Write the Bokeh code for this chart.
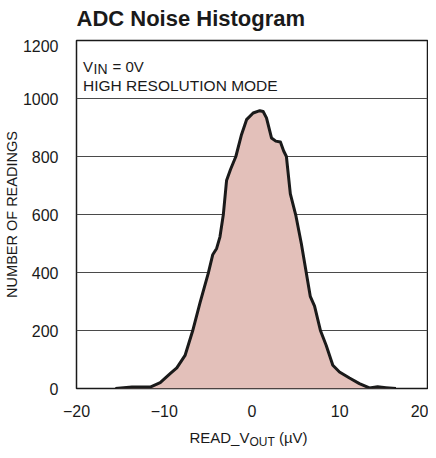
from bokeh.plotting import figure
from bokeh.models import Range1d, FixedTicker, Label, Div
from bokeh.layouts import column
from bokeh.embed import file_html
from bokeh.resources import INLINE

# ---- data ----
read_uv = [-15.57, -13.68, -11.6, -10.46, -9.33, -8.57, -7.63, -6.76, -5.92, -4.98,
           -4.48, -4.03, -3.65, -3.27, -2.9, -2.44, -1.84, -1.19, -0.62, 0.13,
           0.89, 1.27, 1.65, 2.22, 2.71, 3.24, 3.61, 3.92, 4.37, 4.98,
           5.62, 6.19, 6.64, 7.13, 7.81, 8.46, 9.21, 9.97, 11.11, 12.24,
           13.38, 14.32, 15.27, 16.4]
readings = [0, 5, 5, 20, 51, 71, 114, 199, 296, 398,
            461, 483, 523, 599, 717, 756, 800, 876, 927, 950,
            958, 955, 933, 864, 853, 850, 819, 800, 671, 599,
            500, 398, 318, 284, 199, 148, 80, 57, 36, 17,
            2, 6, 3, 0]
x_ticks = [-20, -10, 0, 10, 20]
x_tick_labels = {"-20": "\u221220", "-10": "\u221210", "0": "0", "10": "10", "20": "20"}
y_ticks = [0, 200, 400, 600, 800, 1000, 1200]

FONT = "Liberation Sans"
TXT = "#1a1a1a"
X_RANGE = Range1d(-20, 20)

def lab(fig, text, x, y, xo, yo, size, style="normal"):
    fig.add_layout(Label(x=x, y=y, x_offset=xo, y_offset=yo, text=text,
                         text_font=FONT, text_font_size=size, text_font_style=style,
                         text_color=TXT, text_baseline="alphabetic", text_align="left"))

# title strip
t = figure(width=420, height=39, frame_width=351, frame_height=39,
           min_border_left=68, min_border_right=1, min_border_top=0, min_border_bottom=0,
           x_range=X_RANGE, y_range=Range1d(0, 39), x_axis_type=None, y_axis_type=None,
           output_backend="svg", toolbar_location=None)
t.outline_line_color = None
t.grid.visible = False
lab(t, "ADC Noise Histogram", -20, 0, 0, 21, "22px", "bold")

# main chart
p = figure(width=420, height=379, frame_width=351, frame_height=348,
           min_border_left=68, min_border_right=1, min_border_top=1, min_border_bottom=30,
           x_range=X_RANGE, y_range=Range1d(0, 1200),
           output_backend="svg", toolbar_location=None, background_fill_color="white")

p.outline_line_color = "#1a1a1a"
p.outline_line_width = 1.5
p.xgrid.visible = False
p.ygrid.grid_line_color = "#4a4a4a"
p.ygrid.grid_line_width = 1
p.yaxis.ticker = FixedTicker(ticks=y_ticks)
p.xaxis.ticker = FixedTicker(ticks=x_ticks)
p.xaxis.major_label_overrides = x_tick_labels

for ax in (p.xaxis[0], p.yaxis[0]):
    ax.axis_line_color = None
    ax.major_tick_line_color = None
    ax.minor_tick_line_color = None
    ax.major_label_text_font = FONT
    ax.major_label_text_font_size = "16px"
    ax.major_label_text_color = TXT
    ax.axis_label_text_font = FONT
    ax.axis_label_text_font_size = "14.5px"
    ax.axis_label_text_font_style = "normal"
    ax.axis_label_text_color = TXT

p.yaxis.major_label_standoff = 12
p.yaxis.axis_label = "NUMBER OF READINGS"
p.yaxis.axis_label_standoff = 0
p.xaxis.major_label_standoff = 10

p.varea(x=read_uv, y1=[0] * len(read_uv), y2=readings, fill_color="#E3C0BA")
p.line(x=read_uv, y=readings, line_color="#1a1a1a", line_width=3, line_join="round")

# annotations inside the frame
lab(p, "V", -20, 1200, 6.5, -25.5, "15px")
lab(p, "IN", -20, 1200, 17, -28, "14px")
lab(p, "= 0V", -20, 1200, 36, -25.5, "15px")
lab(p, "HIGH RESOLUTION MODE", -20, 1200, 6.5, -45, "15.5px")

# x-axis title (with subscript) as HTML text below the chart
xlabel_html = (
    '<div style="width:351px;margin-left:68px;padding-top:5px;text-align:center;'
    'font-family:\'Liberation Sans\';font-size:15px;line-height:17px;color:#1a1a1a;'
    'white-space:nowrap">READ_V<span style="font-size:12px;position:relative;top:2.5px">'
    'OUT</span> (\u00b5V)</div>'
)
xl = Div(text=xlabel_html, width=420, height=24)

layout = column(t, p, xl, spacing=0)
open("out.html", "w").write(file_html(layout, INLINE))
